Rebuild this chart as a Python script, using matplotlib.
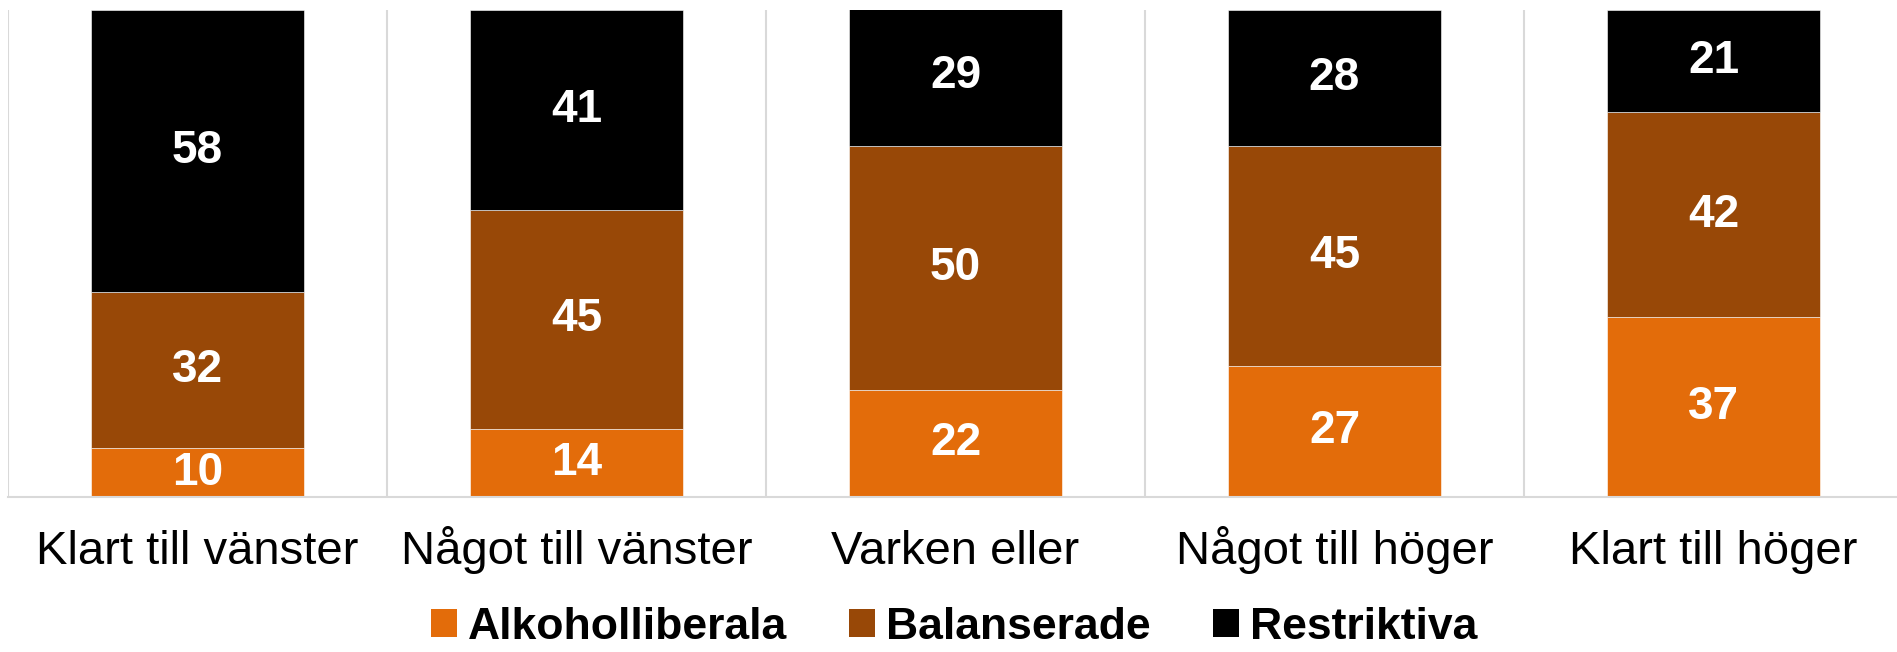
import numpy as np
import matplotlib.pyplot as plt
from matplotlib.patches import Patch

# Data
categories = ['Klart till vänster', 'Något till vänster', 'Varken eller',
              'Något till höger', 'Klart till höger']
alkoholliberala = [10, 14, 22, 27, 37]
balanserade = [32, 45, 50, 45, 42]
restriktiva = [58, 41, 29, 28, 21]
series_names = ['Alkoholliberala', 'Balanserade', 'Restriktiva']

colors = ['#E36C0A', '#984807', '#000000']

plt.rcParams['font.family'] = ['Liberation Sans', 'DejaVu Sans']

fig = plt.figure(figsize=(18.97, 6.52), dpi=100)
ax = fig.add_axes([8 / 1897, 155 / 652, 1895 / 1897, 487 / 652])

x = np.arange(len(categories))
bottom = np.zeros(len(categories))
for vals, col in zip([alkoholliberala, balanserade, restriktiva], colors):
    vals = np.array(vals, dtype=float)
    ax.bar(x, vals, width=0.56, bottom=bottom, color=col,
           edgecolor='white', linewidth=0.4, zorder=2)
    for xi, b, v in zip(x, bottom, vals):
        ax.text(xi, b + v / 2, f'{int(v)}', ha='center', va='center',
                color='white', fontsize=33, fontweight='bold', zorder=3,
                clip_on=False)
    bottom += vals

ax.set_xlim(-0.5, len(categories) - 0.5)
ax.set_ylim(0, 100)

# vertical separators between categories
for b in np.arange(-0.5, len(categories), 1.0):
    ax.axvline(b, color='#D9D9D9', linewidth=1.5, zorder=1)

ax.set_yticks([])
ax.set_xticks(x)
ax.set_xticklabels(categories, fontsize=34)
ax.tick_params(axis='x', length=0, pad=48)
for lab in ax.get_xticklabels():
    lab.set_verticalalignment('baseline')
for s in ['top', 'right', 'left']:
    ax.spines[s].set_visible(False)
ax.spines['bottom'].set_color('#D9D9D9')
ax.spines['bottom'].set_linewidth(1.5)

handles = [Patch(facecolor=c, edgecolor='none') for c in colors]
fig.legend(handles, series_names, loc='center', bbox_to_anchor=(0.503, 0.038),
           ncol=3, frameon=False, prop={'size': 32, 'weight': 'bold'},
           handlelength=0.58, handleheight=0.58, handletextpad=0.25,
           columnspacing=1.4, borderpad=0.1)

fig.savefig('out.png', dpi=100)
